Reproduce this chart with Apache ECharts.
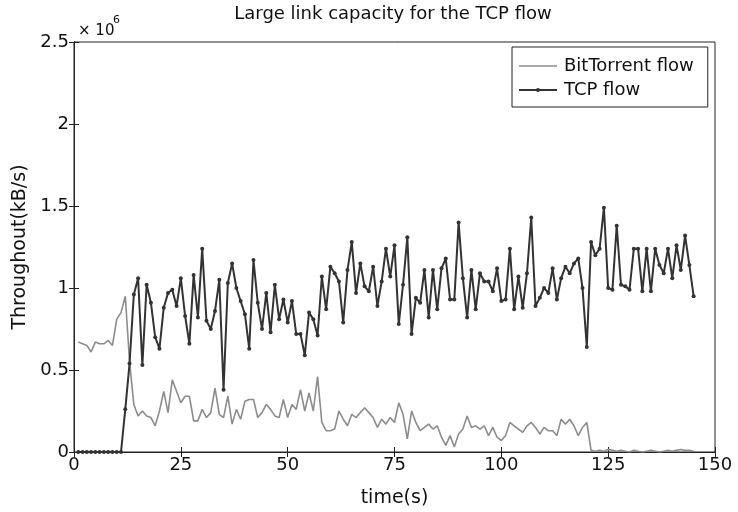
<!DOCTYPE html>
<html>
<head>
<meta charset="utf-8">
<script src="https://cdn.jsdelivr.net/npm/echarts@6/dist/echarts.min.js"></script>
<style>
  html, body { margin: 0; padding: 0; background: #fff; }
  #container { width: 738px; height: 512px; }
</style>
</head>
<body>
<div id="container"></div>
<script>
// time in seconds, one sample per second starting at t = 1
var timeStart = 1;

// throughput in units of 10^6 kB/s
var bitTorrentFlow = [
  0.67, 0.66, 0.65, 0.61, 0.67, 0.66, 0.66, 0.68, 0.65, 0.81,
  0.85, 0.95, 0.55, 0.29, 0.22, 0.25, 0.22, 0.21, 0.16, 0.25,
  0.37, 0.24, 0.44, 0.37, 0.30, 0.34, 0.34, 0.19, 0.19, 0.26,
  0.21, 0.24, 0.39, 0.23, 0.21, 0.34, 0.17, 0.26, 0.20, 0.31,
  0.32, 0.32, 0.21, 0.24, 0.29, 0.26, 0.22, 0.21, 0.32, 0.21,
  0.29, 0.26, 0.38, 0.25, 0.36, 0.25, 0.46, 0.18, 0.13, 0.13,
  0.14, 0.25, 0.20, 0.16, 0.23, 0.21, 0.24, 0.27, 0.24, 0.21,
  0.15, 0.20, 0.17, 0.21, 0.18, 0.30, 0.23, 0.08, 0.25, 0.18,
  0.13, 0.15, 0.17, 0.14, 0.16, 0.09, 0.04, 0.10, 0.03, 0.11,
  0.14, 0.22, 0.15, 0.16, 0.14, 0.16, 0.10, 0.15, 0.09, 0.07,
  0.10, 0.18, 0.16, 0.14, 0.12, 0.16, 0.18, 0.15, 0.11, 0.15,
  0.13, 0.13, 0.10, 0.20, 0.17, 0.20, 0.16, 0.10, 0.15, 0.18,
  0.01, 0.005, 0.01, 0.005, 0.015, 0.01, 0.005, 0.01, 0.005, 0.0,
  0.01, 0.005, 0.0, 0.005, 0.01, 0.005, 0.0, 0.005, 0.01, 0.005,
  0.01, 0.015, 0.01, 0.01, 0.005
];

var tcpFlow = [
  0, 0, 0, 0, 0, 0, 0, 0, 0, 0,
  0, 0.26, 0.54, 0.96, 1.06, 0.53, 1.02, 0.91, 0.70, 0.63,
  0.88, 0.97, 0.99, 0.89, 1.06, 0.83, 0.66, 1.08, 0.82, 1.24,
  0.80, 0.75, 0.86, 1.05, 0.38, 1.03, 1.15, 1.00, 0.92, 0.84,
  0.63, 1.17, 0.91, 0.75, 0.97, 0.73, 1.02, 0.81, 0.93, 0.79,
  0.92, 0.72, 0.72, 0.59, 0.85, 0.81, 0.71, 1.07, 0.87, 1.13,
  1.09, 1.04, 0.79, 1.11, 1.28, 0.97, 1.15, 1.01, 0.98, 1.13,
  0.89, 1.04, 1.24, 1.07, 1.26, 0.78, 1.02, 1.31, 0.72, 0.94,
  0.91, 1.11, 0.82, 1.11, 0.87, 1.12, 1.18, 0.93, 0.93, 1.40,
  1.06, 0.82, 1.11, 0.87, 1.09, 1.04, 1.04, 0.98, 1.12, 0.92,
  0.93, 1.24, 0.87, 1.07, 0.88, 1.09, 1.43, 0.89, 0.94, 1.00,
  0.97, 1.12, 0.93, 1.06, 1.13, 1.09, 1.15, 1.18, 1.00, 0.64,
  1.28, 1.20, 1.24, 1.49, 1.00, 0.99, 1.38, 1.02, 1.01, 0.99,
  1.24, 1.24, 0.98, 1.24, 0.98, 1.24, 1.14, 1.09, 1.24, 1.06,
  1.26, 1.11, 1.32, 1.14, 0.95
];

var xTicks = [0, 25, 50, 75, 100, 125, 150];
var yTicks = [0, 0.5, 1, 1.5, 2, 2.5];

function pairs(values) {
  var out = [];
  for (var i = 0; i < values.length; i++) {
    out.push([timeStart + i, values[i]]);
  }
  return out;
}

var font = 'DejaVu Sans, Liberation Sans, sans-serif';
var ink = '#111';

window.onload = function () {
  var myChart = echarts.init(document.getElementById('container'));

  var tickInside = { show: true, inside: true, length: 5, lineStyle: { color: '#222' } };

  var option = {
    animation: false,
    backgroundColor: '#fff',
    textStyle: { fontFamily: font },
    legend: {
      orient: 'vertical',
      left: 512,
      top: 47,
      padding: [10, 14, 8, 6],
      itemGap: 6,
      itemWidth: 38,
      itemHeight: 5,
      borderColor: '#222',
      borderWidth: 1,
      backgroundColor: '#fff',
      textStyle: { fontFamily: font, fontSize: 18, color: ink, padding: [0, 0, 0, 2] },
      data: [
        { name: 'BitTorrent flow', icon: 'path://M0,0 L40,0 L40,1.4 L0,1.4 Z' },
        'TCP flow'
      ]
    },
    grid: {
      left: 74,
      right: 23,
      top: 42,
      bottom: 60,
      outerBoundsMode: 'none',
      containLabel: false,
      show: true,
      borderColor: '#222',
      borderWidth: 1
    },
    graphic: [
      { type: 'text', x: 393, y: 5, style: { text: 'Large link capacity for the TCP flow', textAlign: 'center', fontFamily: font, fontSize: 18, fill: ink } },
      { type: 'text', x: 78, y: 24, style: { text: '× 10', fontFamily: font, fontSize: 15, fill: ink } },
      { type: 'text', x: 113, y: 15, style: { text: '6', fontFamily: font, fontSize: 11, fill: ink } }
    ],
    xAxis: [{
      type: 'value',
      min: xTicks[0],
      max: xTicks[xTicks.length - 1],
      interval: 25,
      name: 'time(s)',
      nameLocation: 'middle',
      nameGap: 37,
      nameTextStyle: { fontFamily: font, fontSize: 19, color: ink },
      axisLine: { show: true, lineStyle: { color: '#222' } },
      axisTick: tickInside,
      axisLabel: { fontFamily: font, fontSize: 18, color: ink, margin: 4 },
      splitLine: { show: false }
    }, {
      type: 'value',
      position: 'top',
      min: xTicks[0],
      max: xTicks[xTicks.length - 1],
      interval: 25,
      axisLine: { show: true, lineStyle: { color: '#222' } },
      axisTick: tickInside,
      axisLabel: { show: false },
      splitLine: { show: false }
    }],
    yAxis: [{
      type: 'value',
      min: yTicks[0],
      max: yTicks[yTicks.length - 1],
      interval: 0.5,
      name: 'Throughout(kB/s)',
      nameLocation: 'middle',
      nameGap: 42,
      nameTextStyle: { fontFamily: font, fontSize: 19, color: ink },
      axisLine: { show: true, lineStyle: { color: '#222' } },
      axisTick: tickInside,
      axisLabel: { fontFamily: font, fontSize: 18, color: ink, margin: 5 },
      splitLine: { show: false }
    }, {
      type: 'value',
      position: 'right',
      min: yTicks[0],
      max: yTicks[yTicks.length - 1],
      interval: 0.5,
      axisLine: { show: true, lineStyle: { color: '#222' } },
      axisTick: tickInside,
      axisLabel: { show: false },
      splitLine: { show: false }
    }],
    series: [{
      name: 'BitTorrent flow',
      type: 'line',
      data: pairs(bitTorrentFlow),
      symbol: 'none',
      lineStyle: { color: '#8c8c8c', width: 1.6 },
      itemStyle: { color: '#8c8c8c' },
      z: 2
    }, {
      name: 'TCP flow',
      type: 'line',
      data: pairs(tcpFlow),
      symbol: 'circle',
      symbolSize: 4,
      showSymbol: true,
      lineStyle: { color: '#333', width: 2 },
      itemStyle: { color: '#333' },
      z: 3
    }]
  };

  myChart.setOption(option);
};
</script>
</body>
</html>
